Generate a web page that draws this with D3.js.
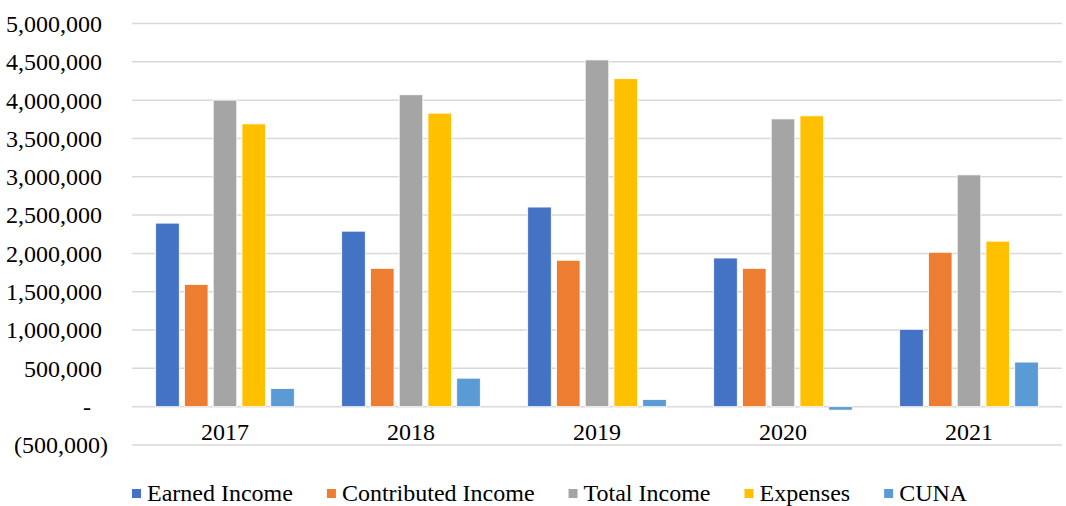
<!DOCTYPE html>
<html>
<head>
<meta charset="utf-8">
<script src="https://cdn.jsdelivr.net/npm/d3@7"></script>
<style>
  html, body { margin: 0; padding: 0; background: #fff; }
  svg { display: block; }
</style>
</head>
<body>
<svg id="chart" width="1066" height="506"></svg>
<script>
const years = ["2017", "2018", "2019", "2020", "2021"];
const seriesNames = ["Earned Income", "Contributed Income", "Total Income", "Expenses", "CUNA"];
const seriesColors = ["#4472C4", "#ED7D31", "#A5A5A5", "#FFC000", "#5B9BD5"];
const earnedIncome      = [2395000, 2290000, 2605000, 1940000, 1010000];
const contributedIncome = [1595000, 1805000, 1910000, 1805000, 2015000];
const totalIncome       = [4000000, 4070000, 4525000, 3755000, 3025000];
const expenses          = [3690000, 3830000, 4280000, 3795000, 2160000];
const cuna              = [237000, 372000, 95000, -45000, 582000];
const yTicks = [-500000, 0, 500000, 1000000, 1500000, 2000000, 2500000, 3000000, 3500000, 4000000, 4500000, 5000000];

const seriesValues = [earnedIncome, contributedIncome, totalIncome, expenses, cuna];
const data = years.map((yr, i) => ({
  year: yr,
  values: seriesNames.map((s, j) => ({ series: s, idx: j, value: seriesValues[j][i] }))
}));

const FONT = "Liberation Serif";
const FS = 24;
const svg = d3.select("#chart");
const plotLeft = 132, plotRight = 1062, plotTop = 23.5, plotBottom = 445;

const y = d3.scaleLinear().domain([-500000, 5000000]).range([plotBottom, plotTop]);
const x0 = d3.scaleBand().domain(years).range([plotLeft, plotRight]).paddingInner(0).paddingOuter(0);
const groupHalf = 71.9;
const x1 = d3.scaleBand().domain(seriesNames).range([-groupHalf, groupHalf]).paddingInner(0.18).paddingOuter(0.09);

const fmt = d3.format(",");
function label(v) {
  if (v === 0) return "-";
  if (v < 0) return "(" + fmt(-v) + ")";
  return fmt(v);
}

// gridlines
svg.append("g").selectAll("line").data(yTicks).join("line")
  .attr("x1", plotLeft).attr("x2", plotRight)
  .attr("y1", d => y(d)).attr("y2", d => y(d))
  .attr("stroke", "#d9d9d9").attr("stroke-width", 1.5);

// y tick labels
svg.append("g").selectAll("text").data(yTicks).join("text")
  .attr("x", d => d < 0 ? 108 : (d === 0 ? 91 : 102))
  .attr("y", d => y(d))
  .attr("dy", "0.35em")
  .attr("text-anchor", "end")
  .attr("font-family", FONT).attr("font-size", FS).attr("fill", "#000")
  .text(label);

// bars
const groups = svg.append("g").selectAll("g").data(data).join("g")
  .attr("transform", d => `translate(${x0(d.year) + x0.bandwidth() / 2},0)`);
groups.selectAll("rect").data(d => d.values).join("rect")
  .attr("x", d => x1(d.series))
  .attr("width", x1.bandwidth())
  .attr("y", d => y(Math.max(0, d.value)))
  .attr("height", d => Math.abs(y(d.value) - y(0)))
  .attr("fill", d => seriesColors[d.idx])
  .attr("stroke", "#fff").attr("stroke-width", 0.8);

// x labels
svg.append("g").selectAll("text").data(years).join("text")
  .attr("x", d => x0(d) + x0.bandwidth() / 2)
  .attr("y", 440)
  .attr("text-anchor", "middle")
  .attr("font-family", FONT).attr("font-size", FS).attr("fill", "#000")
  .text(d => d);

// legend
const legend = svg.append("g");
let lx = 132;
const gap = 34;
seriesNames.forEach((s, i) => {
  legend.append("rect")
    .attr("x", lx).attr("y", 489)
    .attr("width", 9).attr("height", 9)
    .attr("fill", seriesColors[i]);
  const t = legend.append("text")
    .attr("x", lx + 15).attr("y", 500.5)
    .attr("font-family", FONT).attr("font-size", FS).attr("fill", "#000")
    .text(s);
  lx += 15 + t.node().getComputedTextLength() + gap;
});
</script>
</body>
</html>
